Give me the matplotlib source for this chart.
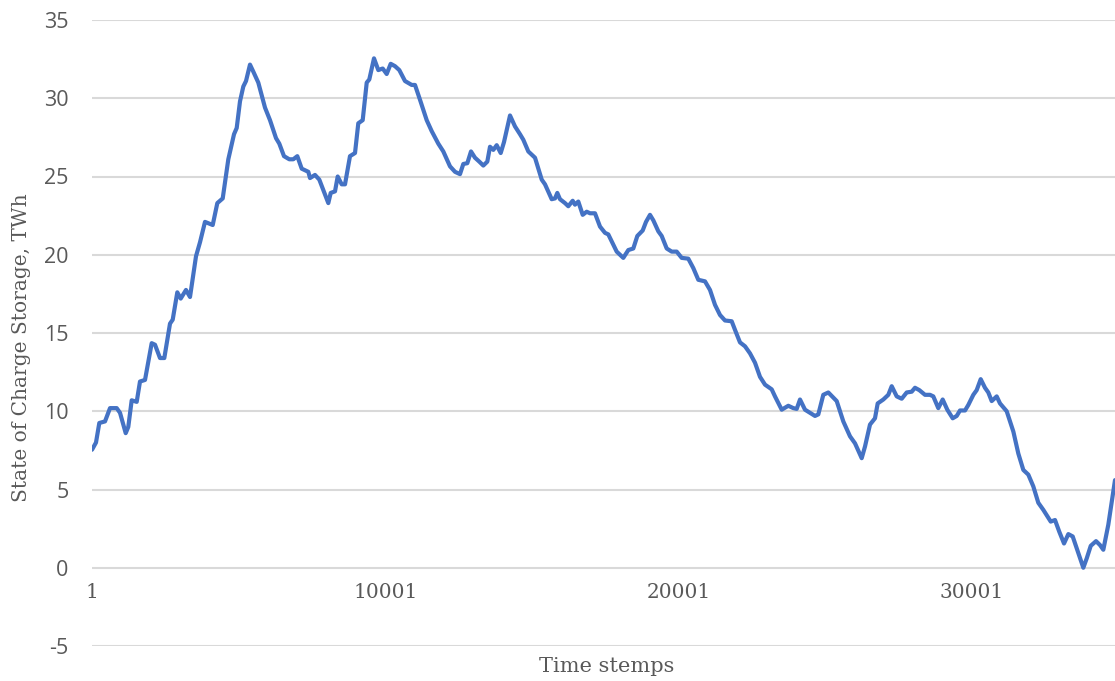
import matplotlib
matplotlib.use("Agg")
import matplotlib.pyplot as plt

plt.rcParams["axes.unicode_minus"] = False

# Time step index (x) and state of charge (TWh)
time_steps = [
    1, 137, 250, 444, 615, 843, 956, 1150, 1238, 1354, 1525, 1637, 1808, 2036,
    2149, 2319, 2466, 2660, 2752, 2909, 3025, 3205, 3342, 3546, 3683, 3853,
    4116, 4273, 4457, 4648, 4842, 4934, 5046, 5159, 5251, 5387, 5500, 5670,
    5899, 6069, 6274, 6386, 6546, 6727, 6863, 7000, 7150, 7375, 7433, 7603,
    7750, 8057, 8138, 8285, 8377, 8513, 8626, 8796, 8967, 9079, 9229, 9366,
    9454, 9614, 9761, 9911, 10047, 10184, 10330, 10477, 10671, 10900, 11012,
    11183, 11411, 11581, 11806, 11977, 12205, 12376, 12546, 12659, 12795,
    12921, 13057, 13204, 13341, 13477, 13569, 13682, 13797, 13934, 14046,
    14251, 14421, 14592, 14704, 14875, 14991, 15103, 15332, 15444, 15672,
    15785, 15863, 15955, 16126, 16238, 16388, 16466, 16579, 16729, 16865,
    16978, 17148, 17319, 17489, 17602, 17888, 18113, 18284, 18454, 18591,
    18774, 18887, 19023, 19136, 19306, 19422, 19593, 19763, 19933, 20104,
    20329, 20499, 20670, 20898, 21069, 21239, 21410, 21580, 21808, 21921,
    22091, 22262, 22432, 22603, 22773, 22944, 23172, 23284, 23513, 23738,
    23909, 24024, 24137, 24307, 24648, 24761, 24931, 25102, 25388, 25613,
    25841, 26012, 26240, 26353, 26523, 26693, 26785, 26977, 27147, 27263,
    27434, 27604, 27774, 27945, 28057, 28204, 28398, 28568, 28681, 28851,
    29001, 29158, 29342, 29479, 29591, 29762, 29874, 30045, 30160, 30297,
    30443, 30556, 30672, 30842, 30955, 31183, 31296, 31410, 31579, 31750,
    31920, 32090, 32261, 32431, 32684, 32830, 32976, 33137, 33284, 33433,
    33625, 33795, 33911, 34048, 34228, 34364, 34477, 34647, 34875,
]
soc_twh = [
    7.54, 8.0, 9.25, 9.35, 10.2, 10.2, 9.9, 8.6, 9.0, 10.7, 10.6, 11.9, 12.0, 14.35,
    14.25, 13.4, 13.4, 15.6, 15.85, 17.6, 17.2, 17.75, 17.3, 19.9, 20.8, 22.1,
    21.9, 23.3, 23.6, 26.1, 27.7, 28.1, 29.8, 30.75, 31.1, 32.15, 31.7, 31.0,
    29.4, 28.6, 27.45, 27.1, 26.3, 26.1, 26.1, 26.3, 25.5, 25.3, 24.9, 25.1,
    24.8, 23.3, 23.95, 24.05, 25.0, 24.5, 24.5, 26.3, 26.5, 28.4, 28.6, 31.0,
    31.2, 32.55, 31.8, 31.9, 31.55, 32.2, 32.05, 31.8, 31.1, 30.85, 30.85,
    29.9, 28.6, 27.9, 27.1, 26.6, 25.65, 25.3, 25.15, 25.8, 25.85,
    26.6, 26.2, 25.95, 25.7, 25.95, 26.9, 26.7, 27.0, 26.5, 27.2,
    28.9, 28.2, 27.7, 27.35, 26.6, 26.4, 26.2, 24.8, 24.5, 23.55,
    23.6, 23.95, 23.55, 23.3, 23.1, 23.45, 23.2, 23.4, 22.55, 22.75,
    22.65, 22.65, 21.8, 21.4, 21.3, 20.2, 19.8, 20.3, 20.4, 21.2,
    21.55, 22.1, 22.55, 22.2, 21.5, 21.2, 20.4, 20.2, 20.2, 19.8,
    19.75, 19.15, 18.4, 18.3, 17.75, 16.8, 16.15, 15.8, 15.75, 15.2,
    14.4, 14.15, 13.7, 13.1, 12.2, 11.7, 11.4, 10.95, 10.1, 10.35,
    10.2, 10.15, 10.75, 10.1, 9.7, 9.8, 11.05, 11.2, 10.65, 9.35,
    8.4, 7.95, 7.0, 7.75, 9.15, 9.55, 10.5, 10.75, 11.05, 11.6,
    10.95, 10.8, 11.2, 11.25, 11.5, 11.35, 11.05, 11.05, 10.95, 10.2,
    10.75, 10.1, 9.55, 9.7, 10.05, 10.05, 10.4, 11.05, 11.35, 12.05,
    11.5, 11.2, 10.65, 10.95, 10.5, 10.0, 9.35, 8.7, 7.3, 6.25,
    5.95, 5.2, 4.15, 3.7, 2.95, 3.05, 2.3, 1.55, 2.15, 2.0,
    0.95, 0.0, 0.6, 1.4, 1.7, 1.45, 1.15, 2.75, 5.6,
]
x_ticks = [1, 10001, 20001, 30001]
y_ticks = [-5, 0, 5, 10, 15, 20, 25, 30, 35]

W, H = 1115, 681
fig = plt.figure(figsize=(W / 100, H / 100), dpi=100)
ax = fig.add_axes([92 / W, 1 - 646 / H, (1115 - 92) / W, (646 - 20) / H])

ax.plot(time_steps, soc_twh, color="#4472C4", linewidth=3.0,
        solid_joinstyle="round", solid_capstyle="round", zorder=3)

ax.set_xlim(1, 34875)
ax.set_ylim(-5, 35)
ax.set_yticks(y_ticks)
ax.set_xticks(x_ticks)
ax.set_xticklabels([str(v) for v in x_ticks])
ax.grid(axis="y", color="#D9D9D9", linewidth=1.5, zorder=0)
ax.set_axisbelow(True)

for s in ["top", "right", "left"]:
    ax.spines[s].set_visible(False)
ax.spines["bottom"].set_position(("data", 0))
ax.spines["bottom"].set_visible(False)

ax.tick_params(axis="x", length=0, pad=11, labelsize=14.5, colors="#595959")
ax.tick_params(axis="y", length=0, pad=17, labelsize=15.5, colors="#595959")
for lab in ax.get_xticklabels():
    lab.set_fontfamily("DejaVu Serif")
for lab in ax.get_yticklabels():
    lab.set_fontfamily("Open Sans")

fig.text(607 / W, 1 - 666 / H, "Time stemps", ha="center", va="center",
         fontsize=15, family="DejaVu Serif", color="#595959")
fig.text(22 / W, 1 - 348 / H, "State of Charge Storage, TWh", ha="center",
         va="center", rotation=90, fontsize=14.5, family="DejaVu Serif",
         color="#595959")

fig.savefig("out.png", dpi=100)
